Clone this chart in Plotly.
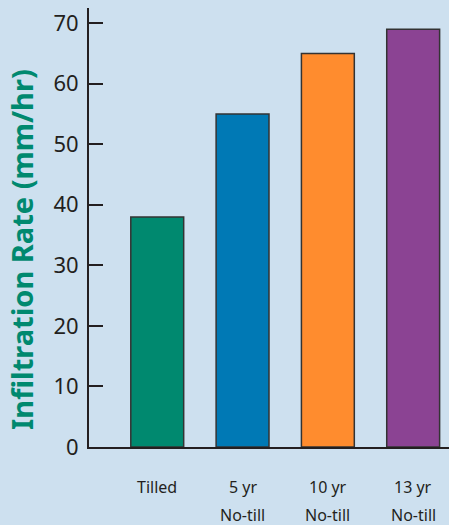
import plotly.graph_objects as go

categories = ["Tilled", "5 yr", "10 yr", "13 yr"]
line1 = ["Tilled", "5 yr", "10 yr", "13 yr"]
line2 = ["", "No-till", "No-till", "No-till"]
values = [38, 55, 65, 69]
colors = ["#00896f", "#0079b5", "#ff8c2e", "#8b4393"]
yticks = [0, 10, 20, 30, 40, 50, 60, 70]

bg = "#cde0ef"
ink = "#231f20"
font = "Noto Sans"

fig = go.Figure()
fig.add_trace(go.Bar(
    x=categories, y=values, width=0.62,
    marker=dict(color=colors, line=dict(color="#333333", width=1.5)),
))

for c, a, b in zip(categories, line1, line2):
    fig.add_annotation(x=c, y=0, xref="x", yref="y", text=a, showarrow=False,
                       yshift=-40, font=dict(family=font, size=16, color=ink))
    if b:
        fig.add_annotation(x=c, y=0, xref="x", yref="y", text=b, showarrow=False,
                           yshift=-68, font=dict(family=font, size=16, color=ink))

fig.add_annotation(x=-0.186, y=0.449, xref="paper", yref="paper",
                   xanchor="center", yanchor="middle",
                   text="<b>Infiltration Rate (mm/hr)</b>", textangle=-90,
                   showarrow=False,
                   font=dict(family=font, size=29, color="#00896f"))

fig.update_layout(
    width=449, height=525,
    margin=dict(l=89, r=0, t=8, b=78),
    paper_bgcolor=bg, plot_bgcolor=bg,
    showlegend=False,
    bargap=0.38,
    xaxis=dict(range=[-0.80, 3.42], showticklabels=False, ticks="",
               showline=True, linecolor=ink, linewidth=2, showgrid=False,
               zeroline=False, fixedrange=True),
    yaxis=dict(range=[0, 72.5], tickvals=yticks, ticks="inside", ticklen=14,
               tickwidth=2, tickcolor=ink, showline=True, linecolor=ink,
               linewidth=2, showgrid=False, zeroline=False,
               ticklabelstandoff=4,
               tickfont=dict(family=font, size=22, color=ink)),
)

fig.write_html("out.html")
